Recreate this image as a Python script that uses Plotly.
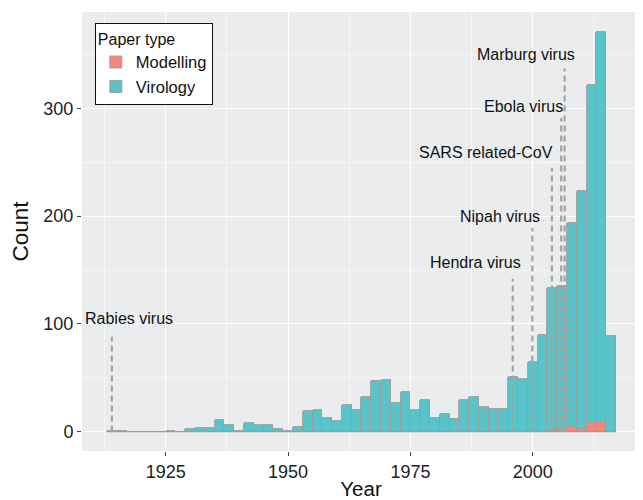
import plotly.graph_objects as go

# ---- data (2-year bins, centre year) ----
bin_centers = [1914, 1916, 1918, 1920, 1922, 1924, 1926, 1928, 1930, 1932,
               1934, 1936, 1938, 1940, 1942, 1944, 1946, 1948, 1950, 1952,
               1954, 1956, 1958, 1960, 1962, 1964, 1966, 1968, 1970, 1972,
               1974, 1976, 1978, 1980, 1982, 1984, 1986, 1988, 1990, 1992,
               1994, 1996, 1998, 2000, 2002, 2004, 2006, 2008, 2010, 2012,
               2014, 2016]
total_counts = [1, 1, 0, 0, 0, 0, 1, 0, 2, 3,
                3, 11, 6, 1, 8, 6, 6, 2, 1, 4,
                19, 20, 13, 10, 25, 20, 32, 47, 48, 27,
                37, 20, 29, 13, 16, 12, 29, 32, 23, 21,
                21, 51, 49, 65, 90, 133, 135, 194, 223, 322,
                371, 89]
modelling_counts = [0] * 45 + [1, 2, 4, 2, 8, 9, 0]
virology_counts = [t - m for t, m in zip(total_counts, modelling_counts)]
bin_width = 2

# virus annotations
virus_names = ["Rabies virus", "Hendra virus", "Nipah virus",
               "SARS related-CoV", "Ebola virus", "Marburg virus"]
virus_line_year = [1914.0, 1995.9, 1999.9, 2003.9, 2005.8, 2006.5]
virus_line_top = [88, 142, 189, 245, 291, 337]
virus_label_year = [1917.6, 1988.2, 1993.3, 1990.5, 1998.0, 1998.6]
virus_label_count = [105, 157, 200, 259, 302, 350]

RED = "#F4877B"
TEAL = "#58C4CA"
OUTLINE = "#9C9C9C"
FONT = "Liberation Sans, Arial, sans-serif"

fig = go.Figure()

# baseline outline of empty bins
edge_lo = bin_centers[0] - bin_width / 2
edge_hi = bin_centers[-1] + bin_width / 2
fig.add_trace(go.Scatter(x=[edge_lo, edge_hi], y=[0, 0], mode="lines",
                         line=dict(color=OUTLINE, width=1.2),
                         showlegend=False, hoverinfo="skip"))

fig.add_trace(go.Bar(x=bin_centers, y=modelling_counts, width=bin_width,
                     name="Modelling", marker=dict(color=RED,
                     line=dict(color=OUTLINE, width=0.9))))
fig.add_trace(go.Bar(x=bin_centers, y=virology_counts, width=bin_width,
                     name="Virology", marker=dict(color=TEAL,
                     line=dict(color=OUTLINE, width=0.9))))

for name, lx, ltop, tx, ty in zip(virus_names, virus_line_year, virus_line_top,
                                  virus_label_year, virus_label_count):
    fig.add_trace(go.Scatter(x=[lx, lx], y=[0, ltop], mode="lines",
                             line=dict(color="#A3A3A3", width=2.2, dash="6px,4px"),
                             showlegend=False, hoverinfo="skip"))
    fig.add_annotation(x=tx, y=ty, text=name, showarrow=False,
                       font=dict(family=FONT, size=16, color="#111111"),
                       xanchor="center", yanchor="middle")

# page body has an 8px margin, so the figure is sized to fill the window
fig.update_layout(
    width=635, height=492,
    margin=dict(l=74, r=3, t=4, b=49),
    barmode="stack", bargap=0,
    paper_bgcolor="white", plot_bgcolor="#EBECEE",
    font=dict(family=FONT, color="#111111"),
    legend=dict(
        title=dict(text="Paper type", font=dict(size=16, family=FONT)),
        font=dict(size=16.5, family=FONT),
        traceorder="normal",
        x=0.023, y=0.975, xanchor="left", yanchor="top",
        bgcolor="white", bordercolor="#111111", borderwidth=1,
        itemwidth=30, tracegroupgap=2,
    ),
)

fig.update_xaxes(
    range=[1907.9, 2021.9], tickmode="linear", tick0=1925, dtick=25,
    showgrid=True, gridcolor="white", gridwidth=1.2, zeroline=False,
    minor=dict(showgrid=True, gridcolor="#F5F6F7", gridwidth=0.6, dtick=12.5, tick0=1925),
    ticks="outside", ticklen=4, tickcolor="#444444",
    tickfont=dict(size=18, family=FONT, color="#222222"),
    title=dict(text="Year", font=dict(size=20.5, family=FONT), standoff=6),
    showline=False, automargin=False,
)
fig.update_yaxes(
    range=[-18, 389.5], tickmode="linear", tick0=0, dtick=100,
    showgrid=True, gridcolor="white", gridwidth=1.2, zeroline=False,
    minor=dict(showgrid=True, gridcolor="#F5F6F7", gridwidth=0.6, dtick=50, tick0=0),
    ticks="outside", ticklen=4, tickcolor="#444444",
    tickfont=dict(size=18, family=FONT, color="#222222"),
    title=dict(text="Count", font=dict(size=22.5, family=FONT), standoff=12),
    showline=False, automargin=False,
)

fig.write_html("out.html")
